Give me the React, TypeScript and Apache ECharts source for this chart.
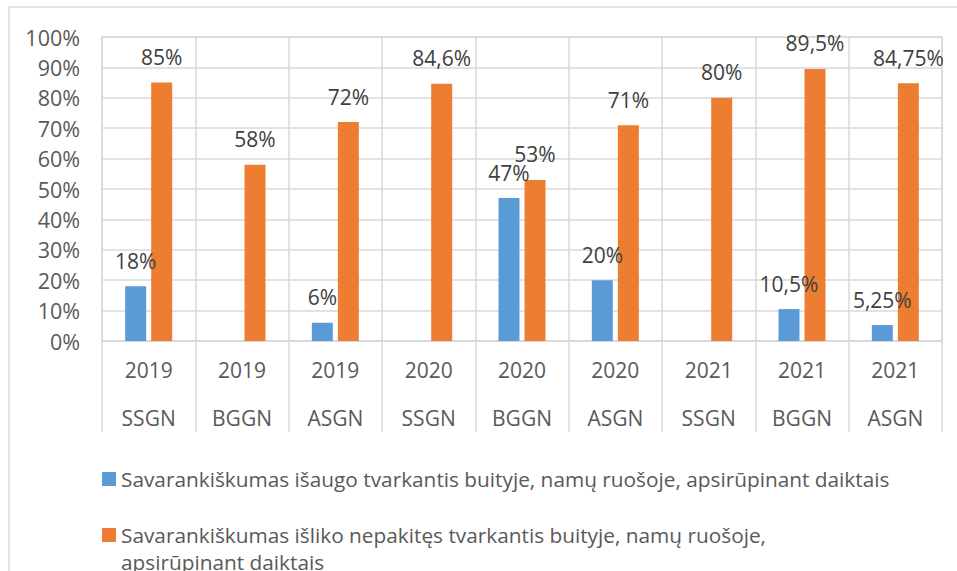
import React, { useEffect, useRef } from "react";
import * as echarts from "echarts";

const years = ["2019", "2019", "2019", "2020", "2020", "2020", "2021", "2021", "2021"];
const groups = ["SSGN", "BGGN", "ASGN", "SSGN", "BGGN", "ASGN", "SSGN", "BGGN", "ASGN"];
const increasedValues: (number | null)[] = [18, null, 6, null, 47, 20, null, 10.5, 5.25];
const unchangedValues: number[] = [85, 58, 72, 84.6, 53, 71, 80, 89.5, 84.75];
const seriesNames = [
  "Savarankiškumas išaugo tvarkantis buityje, namų ruošoje, apsirūpinant daiktais",
  "Savarankiškumas išliko nepakitęs tvarkantis buityje, namų ruošoje, apsirūpinant daiktais",
];
const legendLines2 = [
  "Savarankiškumas išliko nepakitęs tvarkantis buityje, namų ruošoje,",
  "apsirūpinant daiktais",
];

const BLUE = "#5B9BD5";
const ORANGE = "#ED7D31";
const GRID = "#d9d9d9";
const FONT = "Open Sans";

export default function App() {
  const ref = useRef<HTMLDivElement>(null);
  useEffect(() => {
    if (!ref.current) return;
    const chart = echarts.init(ref.current, null, { renderer: "svg" });
    const categories = years.map((y, i) => y + "\n" + groups[i]);
    const fmt = (p: any) => String(p.value).replace(".", ",") + "%";
    const legendText = (text: string, y: number) => ({
      type: "text",
      x: 121,
      y,
      style: {
        text,
        fill: "#595959",
        fontSize: 20.8,
        fontFamily: FONT,
        verticalAlign: "middle",
      },
    });
    chart.setOption({
      animation: false,
      backgroundColor: "#ffffff",
      grid: {
        left: 102,
        right: 15,
        top: 37,
        bottom: 230,
        show: true,
        borderColor: GRID,
        borderWidth: 1.5,
      },
      xAxis: {
        type: "category",
        data: categories,
        axisLine: { show: true, lineStyle: { color: GRID, width: 1.5 } },
        axisTick: { show: true, interval: 0, length: 91, lineStyle: { color: GRID, width: 1.5 } },
        splitLine: { show: true, interval: 0, lineStyle: { color: GRID, width: 1.5 } },
        axisLabel: {
          interval: 0,
          margin: 5,
          fontSize: 21,
          lineHeight: 48,
          color: "#595959",
          fontFamily: FONT,
        },
      },
      yAxis: {
        type: "value",
        min: 0,
        max: 100,
        interval: 10,
        axisLine: { show: false },
        axisTick: { show: false },
        splitLine: { show: true, lineStyle: { color: GRID, width: 1.5 } },
        axisLabel: {
          formatter: "{value}%",
          margin: 22,
          fontSize: 21.5,
          color: "#595959",
          fontFamily: FONT,
        },
      },
      series: [
        {
          name: seriesNames[0],
          type: "bar",
          data: increasedValues,
          barWidth: 21,
          barGap: "24%",
          itemStyle: { color: BLUE },
          label: {
            show: true,
            position: "top",
            distance: 15,
            formatter: fmt,
            fontSize: 21,
            color: "#404040",
            fontFamily: FONT,
          },
        },
        {
          name: seriesNames[1],
          type: "bar",
          data: unchangedValues,
          barWidth: 21,
          barGap: "24%",
          itemStyle: { color: ORANGE },
          label: {
            show: true,
            position: "top",
            distance: 15,
            formatter: fmt,
            fontSize: 21,
            color: "#404040",
            fontFamily: FONT,
          },
        },
      ],
      graphic: [
        {
          type: "rect",
          shape: { x: 9, y: 7, width: 970, height: 600 },
          style: { fill: "none", stroke: GRID, lineWidth: 1.5 },
          silent: true,
        },
        {
          type: "rect",
          shape: { x: 102, y: 472, width: 14, height: 14 },
          style: { fill: BLUE },
        },
        legendText(seriesNames[0], 479),
        {
          type: "rect",
          shape: { x: 102, y: 528, width: 14, height: 14 },
          style: { fill: ORANGE },
        },
        legendText(legendLines2[0], 535),
        legendText(legendLines2[1], 562),
      ],
    });
    return () => chart.dispose();
  }, []);
  return (
    <div
      ref={ref}
      style={{ position: "fixed", left: 0, top: 0, width: 957, height: 571, background: "#fff" }}
    />
  );
}
